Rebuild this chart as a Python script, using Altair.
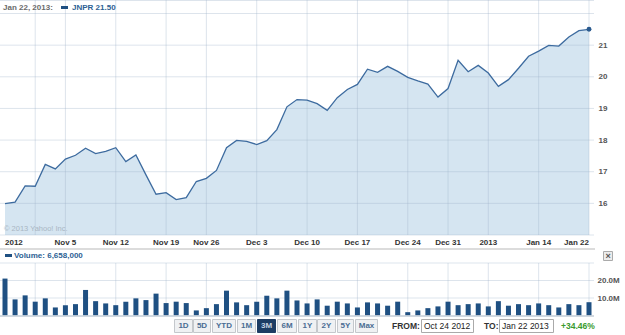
import altair as alt
import pandas as pd

# ---------------- data ----------------
trade_dates = [
    "2012-10-24", "2012-10-25", "2012-10-26", "2012-10-31", "2012-11-01", "2012-11-02",
    "2012-11-05", "2012-11-06", "2012-11-07", "2012-11-08", "2012-11-09",
    "2012-11-12", "2012-11-13", "2012-11-14", "2012-11-15", "2012-11-16",
    "2012-11-19", "2012-11-20", "2012-11-21", "2012-11-23",
    "2012-11-26", "2012-11-27", "2012-11-28", "2012-11-29", "2012-11-30",
    "2012-12-03", "2012-12-04", "2012-12-05", "2012-12-06", "2012-12-07",
    "2012-12-10", "2012-12-11", "2012-12-12", "2012-12-13", "2012-12-14",
    "2012-12-17", "2012-12-18", "2012-12-19", "2012-12-20", "2012-12-21",
    "2012-12-24", "2012-12-26", "2012-12-27", "2012-12-28", "2012-12-31",
    "2013-01-02", "2013-01-03", "2013-01-04",
    "2013-01-07", "2013-01-08", "2013-01-09", "2013-01-10", "2013-01-11",
    "2013-01-14", "2013-01-15", "2013-01-16", "2013-01-17", "2013-01-18",
    "2013-01-22",
]

closes = [
    15.99, 16.04, 16.55, 16.54, 17.23, 17.09, 17.40, 17.52, 17.74, 17.57,
    17.64, 17.76, 17.32, 17.53, 16.90, 16.29, 16.34, 16.12, 16.18, 16.69,
    16.79, 17.04, 17.76, 17.99, 17.96, 17.86, 17.98, 18.33, 19.05, 19.28,
    19.26, 19.15, 18.94, 19.34, 19.60, 19.76, 20.24, 20.14, 20.33, 20.17,
    19.98, 19.87, 19.77, 19.36, 19.63, 20.52, 20.16, 20.36, 20.12, 19.70,
    19.91, 20.27, 20.65, 20.81, 20.99, 20.97, 21.26, 21.46, 21.50,
]

volumes_m = [
    21.1, 9.2, 11.5, 7.9, 9.8, 4.6, 5.9, 6.5, 14.6, 8.2,
    6.9, 5.9, 7.9, 9.8, 8.8, 12.5, 7.1, 7.9, 7.1, 2.9,
    4.2, 6.5, 14.2, 7.5, 5.9, 7.9, 11.3, 9.8, 14.2, 8.6,
    6.9, 9.2, 5.6, 7.9, 6.9, 4.6, 7.5, 6.9, 5.6, 7.9,
    1.9, 2.9, 4.2, 5.2, 7.9, 5.9, 6.5, 6.9, 5.2, 8.2,
    5.6, 6.5, 5.9, 6.9, 5.9, 4.6, 6.5, 5.9, 7.6,
]

tick_index = [0, 6, 11, 16, 20, 25, 30, 35, 40, 44, 48, 53, 58]
tick_labels = ["2012", "Nov 5", "Nov 12", "Nov 19", "Nov 26", "Dec 3", "Dec 10",
               "Dec 17", "Dec 24", "Dec 31", "2013", "Jan 14", "Jan 22"]
grid_index = [3, 6, 11, 16, 20, 25, 30, 35, 40, 44, 48, 53, 58]
price_ticks = [16, 17, 18, 19, 20, 21]
price_grid = [15, 16, 17, 18, 19, 20, 21, 22]
price_floor = 15
vol_ticks = [10, 20]
vol_grid = [10, 20, 30]
range_buttons = ["1D", "5D", "YTD", "1M", "3M", "6M", "1Y", "2Y", "5Y", "Max"]
selected_button = "3M"

header_date = "Jan 22, 2013:"
symbol = "JNPR"
volume_text = "Volume: 6,658,000"
from_date = "Oct 24 2012"
to_date = "Jan 22 2013"
change_text = "+34.46%"

# ---------------- layout & style ----------------
FONT = "Liberation Sans"
W = 594
PRICE_TOP, PRICE_BOT = 13.5, 235
VOL_TOP, VOL_BOT = 263, 315.5
LINE_C = "#3d6b9f"
FILL_C = "#d5e5f1"
BAR_C = "#1f5082"
GRID_C = "#9fb3c8"
BLUE_TXT = "#2e5f94"

n = len(closes)
df = pd.DataFrame({"idx": list(range(n)), "date": trade_dates,
                   "close": closes, "vol": volumes_m})
tick_df = pd.DataFrame({"idx": tick_index, "label": tick_labels})
grid_df = pd.DataFrame({"g": grid_index})
pgrid_df = pd.DataFrame({"p": price_grid})
vgrid_df = pd.DataFrame({"v": vol_grid})
one = pd.DataFrame({"k": [0]})

xscale = alt.Scale(domain=[0, n - 1], range=[0, W], nice=False, zero=False)
pscale = alt.Scale(domain=[15, 22], range=[PRICE_BOT, PRICE_TOP], nice=False, zero=False)
vscale = alt.Scale(domain=[0, 30], range=[VOL_BOT, VOL_TOP], nice=False, zero=False)

layers = []

# price area
layers.append(
    alt.Chart(df).mark_area(color=FILL_C, opacity=1).encode(
        x=alt.X("idx:Q", scale=xscale, axis=None),
        y=alt.Y("close:Q", scale=pscale, axis=None),
        y2=alt.datum(price_floor),
    )
)
# price horizontal grid
layers.append(
    alt.Chart(pgrid_df).mark_rule(color=GRID_C, opacity=0.35, strokeWidth=1).encode(
        y=alt.Y("p:Q", scale=pscale, axis=None),
        x=alt.value(0), x2=alt.value(W),
    )
)
# vertical grid (price panel)
layers.append(
    alt.Chart(grid_df).mark_rule(color=GRID_C, opacity=0.35, strokeWidth=1).encode(
        x=alt.X("g:Q", scale=xscale, axis=None),
        y=alt.value(0), y2=alt.value(PRICE_BOT),
    )
)
# top border
layers.append(
    alt.Chart(one).mark_rule(color=GRID_C, opacity=0.35).encode(
        x=alt.value(0), x2=alt.value(W), y=alt.value(0.5)))
# price line
layers.append(
    alt.Chart(df).mark_line(color=LINE_C, strokeWidth=1.3).encode(
        x=alt.X("idx:Q", scale=xscale, axis=None),
        y=alt.Y("close:Q", scale=pscale,
                axis=alt.Axis(orient="right", values=price_ticks, domain=False,
                              ticks=False, grid=False, labelPadding=4,
                              labelFont=FONT, labelFontSize=8, labelFontWeight="bold",
                              labelColor="#555555", title=None)),
    )
)
# end point
layers.append(
    alt.Chart(df).transform_filter(alt.datum.idx == n - 1).mark_circle(
        color="#2a5a8e", size=24, opacity=1).encode(
        x=alt.X("idx:Q", scale=xscale, axis=None),
        y=alt.Y("close:Q", scale=pscale, axis=None),
    )
)

# x-axis date labels (first flush left, last flush right)
for flt, al in [(alt.datum.idx == tick_index[0], "left"),
                ((alt.datum.idx > tick_index[0]) & (alt.datum.idx < tick_index[-1]), "center"),
                (alt.datum.idx == tick_index[-1], "right")]:
    layers.append(
        alt.Chart(tick_df).transform_filter(flt).mark_text(
            align=al, baseline="top", font=FONT, fontSize=8, fontWeight="bold",
            color="#333333").encode(
            x=alt.X("idx:Q", scale=xscale, axis=None),
            y=alt.value(PRICE_BOT + 3.5),
            text="label:N",
        )
    )

# volume grid
layers.append(
    alt.Chart(vgrid_df).mark_rule(color=GRID_C, opacity=0.35).encode(
        y=alt.Y("v:Q", scale=vscale, axis=None),
        x=alt.value(0), x2=alt.value(W),
    )
)
layers.append(
    alt.Chart(grid_df).mark_rule(color=GRID_C, opacity=0.35).encode(
        x=alt.X("g:Q", scale=xscale, axis=None),
        y=alt.value(VOL_TOP), y2=alt.value(VOL_BOT),
    )
)
# volume bars
layers.append(
    alt.Chart(df).mark_bar(color=BAR_C, size=5).encode(
        x=alt.X("idx:Q", scale=xscale, axis=None),
        y=alt.Y("vol:Q", scale=vscale,
                axis=alt.Axis(orient="right", values=vol_ticks, domain=False,
                              ticks=False, grid=False, labelPadding=3,
                              labelExpr="format(datum.value, '.1f') + 'M'",
                              labelFont=FONT, labelFontSize=8, labelFontWeight="bold",
                              labelColor="#555555", title=None)),
    )
)
# volume bottom line
layers.append(
    alt.Chart(one).mark_rule(color="#c3ccd6", strokeWidth=1.5).encode(
        x=alt.value(0), x2=alt.value(W), y=alt.value(316)))
# separator between panels
layers.append(
    alt.Chart(one).mark_rule(color="#dcdcdc", strokeWidth=2).encode(
        x=alt.value(0), x2=alt.value(W + 1), y=alt.value(249)))


def text(s, x, y, color, size=8, weight="bold", align="left"):
    return alt.Chart(one).mark_text(align=align, baseline="middle", font=FONT,
                                    fontSize=size, fontWeight=weight, color=color).encode(
        x=alt.value(x), y=alt.value(y), text=alt.value(s))


def box(x0, x1, y0, y1, fill, stroke, sw=1):
    return alt.Chart(one).mark_rect(fill=fill, stroke=stroke, strokeWidth=sw).encode(
        x=alt.value(x0), x2=alt.value(x1), y=alt.value(y0), y2=alt.value(y1))


# header
layers.append(box(61, 68, 6, 9, BAR_C, BAR_C, 0))
layers.append(text(header_date, 3, 7.5, "#6b6b6b"))
layers.append(text(f"{symbol} {closes[-1]:.2f}", 72, 7.5, BLUE_TXT))
layers.append(text("\u00a9 2013 Yahoo! Inc.", 4, 229, "#a9b6c3", size=7.5, weight="normal"))

# volume header & close button
layers.append(box(5, 12, 254, 257, BAR_C, BAR_C, 0))
layers.append(text(volume_text, 14, 255.5, BLUE_TXT))
layers.append(box(603.5, 612.5, 251.5, 260.5, "#ececec", "#aaaaaa"))
layers.append(text("\u00d7", 608, 256, "#555555", size=9, align="center"))

# range buttons
btn_start = [174, 193, 212, 237, 257, 277, 298, 317, 337, 355]
btn_end = [193, 211, 236, 256, 276, 297, 317, 336, 354, 378]
for lab, a, b in zip(range_buttons, btn_start, btn_end):
    sel = lab == selected_button
    layers.append(box(a + 0.5, b - 0.5, 319.5, 332.5,
                      "#1d3d64" if sel else "#eff1f3",
                      "#1d3d64" if sel else "#c4c8cc"))
    layers.append(text(lab, (a + b) / 2, 326.2, "#c5d3e2" if sel else "#4a6d94",
                       align="center"))

# date range inputs
layers.append(text("FROM:", 392, 326.2, "#333333", size=8.5))
layers.append(box(421.5, 473.5, 319.5, 332.5, "#ffffff", "#aaaaaa"))
layers.append(text(from_date, 424, 326.2, "#222222", size=8.5, weight="normal"))
layers.append(text("TO:", 484, 326.2, "#333333", size=8.5))
layers.append(box(499.5, 553.5, 319.5, 332.5, "#ffffff", "#aaaaaa"))
layers.append(text(to_date, 502, 326.2, "#222222", size=8.5, weight="normal"))
layers.append(text(change_text, 561, 326.2, "#3a9a2e", size=8.5))

chart = alt.layer(*layers).resolve_scale(y="independent").properties(
    width=W, height=335,
    padding={"left": 0, "top": 0, "right": 625 - W, "bottom": 0},
    autosize=alt.AutoSizeParams(type="none"),
    background="white",
).configure_view(stroke=None)

chart.save("out.html", embed_options={"renderer": "svg", "actions": False})
